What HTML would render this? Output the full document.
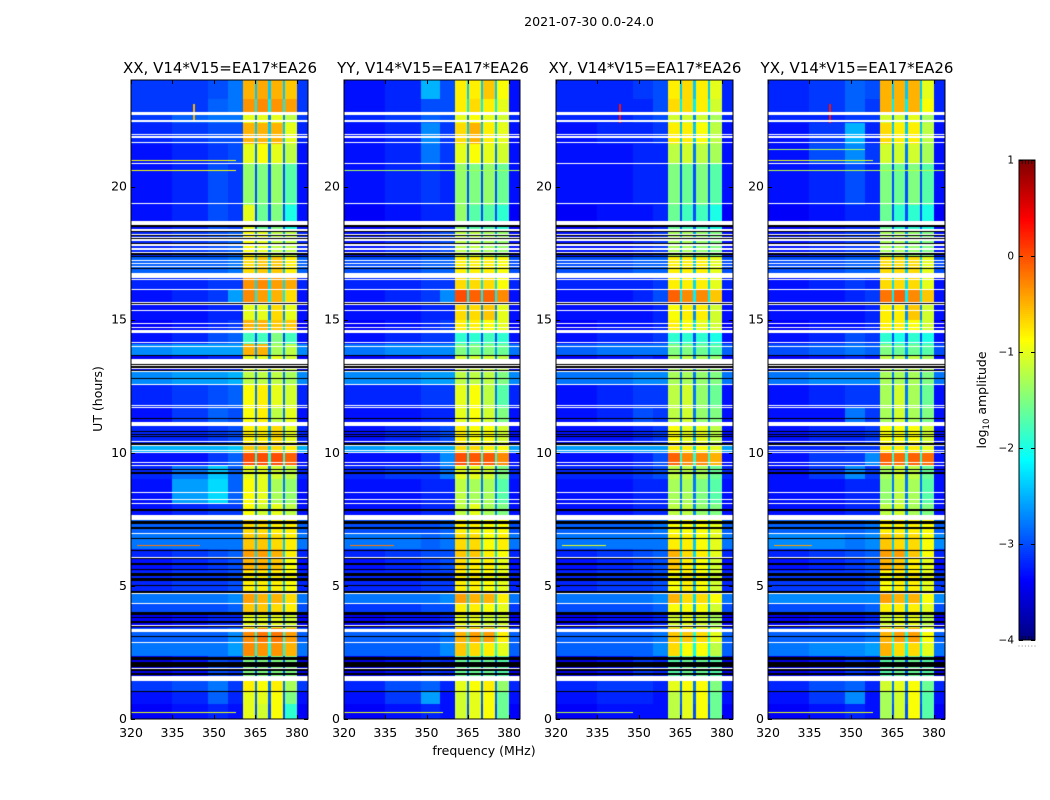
<!DOCTYPE html>
<html lang="en">
<head>
<meta charset="utf-8">
<title>2021-07-30 0.0-24.0</title>
<style>
  html, body { margin: 0; padding: 0; background: #fff; }
  #figure { position: relative; width: 1050px; height: 800px; overflow: hidden; background: #fff; font-family: "DejaVu Sans", "Liberation Sans", sans-serif; }
  canvas { position: absolute; display: block; }
  #overlay { position: absolute; left: 0; top: 0; }
  text { fill: #000; font-family: "DejaVu Sans", "Liberation Sans", sans-serif; }
</style>
</head>
<body>
<div id="figure">
  <canvas id="heat0" width="177" height="639" style="left:131px;top:80px"></canvas>
  <canvas id="heat1" width="176" height="639" style="left:344px;top:80px"></canvas>
  <canvas id="heat2" width="177" height="639" style="left:556px;top:80px"></canvas>
  <canvas id="heat3" width="177" height="639" style="left:768px;top:80px"></canvas>
  <svg id="overlay" width="1050" height="800" viewBox="0 0 1050 800" xmlns="http://www.w3.org/2000/svg">
    <text x="589" y="26" text-anchor="middle" font-size="12.6">2021-07-30 0.0-24.0</text>
    <text x="220" y="73" text-anchor="middle" font-size="15">XX, V14*V15=EA17*EA26</text>
    <text x="433" y="73" text-anchor="middle" font-size="15">YY, V14*V15=EA17*EA26</text>
    <text x="645" y="73" text-anchor="middle" font-size="15">XY, V14*V15=EA17*EA26</text>
    <text x="857" y="73" text-anchor="middle" font-size="15">YX, V14*V15=EA17*EA26</text>
    <text x="484" y="755" text-anchor="middle" font-size="12.5">frequency (MHz)</text>
    <text transform="translate(102 399) rotate(-90)" text-anchor="middle" font-size="12.5">UT (hours)</text>
    <text transform="translate(986 400) rotate(-90)" text-anchor="middle" font-size="12.5">log<tspan font-size="8.5" dy="3">10</tspan><tspan dy="-3"> amplitude</tspan></text>
    <g id="axes"></g>
    <g id="colorbar"></g>
  </svg>
</div>
<script>
// ---- axis tick labels ----
const freqTicks = [320, 335, 350, 365, 380];
const hourTicks = [0, 5, 10, 15, 20];
const colorbarTicks = [1, 0, -1, -2, -3, -4];
const colorbarMinorTicks = [0, 1, 2, 3, 4, 5];
const panelNames = ['xx', 'yy', 'xy', 'yx'];

// ---- frequency columns (MHz) and which level each column reads: 0-3 background, 4-7 bands, 8 gap ----
const freqEdges = [320, 335, 348, 355, 360.4, 364.7, 365.6, 369.7, 370.6, 374.8, 375.7, 379.9, 384];
const columnLevel = [0, 1, 2, 3, 4, 8, 5, 8, 6, 8, 7, 0];

// ---- time rows (hours UT) ----
const hourEdges = [0,0.55,1.05,1.41,2.35,2.9,3.4,3.95,4.35,4.75,5.55,6.05,6.4,7.0,7.5,8.1,9.0,9.5,10.0,10.3,11.0,11.7,12.6,13.1,13.65,14.1,14.6,15.0,15.6,16.1,16.75,17.4,18.3,19.3,20.9,21.6,22.4,22.8,23.3,24];

// ---- log10 amplitude in the narrow gaps between the bands, per time row ----
const gapLevels = [-3.0,-2.9,-2.8,-3.0,-2.1,-2.0,-2.8,-2.5,-2.3,-2.5,-2.5,-2.3,-2.4,-2.5,-2.7,-2.8,-2.8,-1.9,-2.3,-2.6,-2.8,-2.8,-2.8,-2.7,-2.6,-3.0,-2.3,-2.7,-2.2,-2.3,-2.4,-2.6,-3.0,-3.0,-2.8,-2.4,-2.7,-2.2,-2.4];

// ---- log10 amplitude, background columns, one row per time row ----
const backgroundXX = [
[-3.4,-3.3,-3.2,-3.3],[-3.3,-3.2,-2.9,-3.2],[-3.1,-3.0,-2.8,-3.1],[-3.5,-3.3,-3.0,-3.1],[-2.8,-2.8,-2.8,-2.6],[-2.9,-2.9,-2.9,-2.7],
[-3.4,-3.3,-3.2,-3.2],[-3.0,-3.0,-3.0,-2.9],[-2.8,-2.8,-2.8,-2.7],[-3.2,-3.1,-3.1,-3.0],[-3.3,-3.2,-3.1,-3.0],[-3.2,-3.1,-3.0,-2.9],
[-2.8,-2.8,-2.8,-2.8],[-2.9,-2.9,-2.9,-2.9],[-3.3,-3.2,-3.1,-3.1],[-3.3,-2.6,-2.3,-2.9],[-3.2,-2.8,-2.4,-2.9],[-3.3,-3.3,-3.1,-2.9],
[-2.5,-2.5,-2.5,-2.4],[-3.2,-3.2,-3.1,-3.0],[-3.3,-3.1,-2.9,-3.0],[-3.2,-3.1,-3.0,-2.9],[-2.7,-2.6,-2.6,-2.5],[-3.4,-3.3,-3.2,-3.2],
[-2.7,-2.6,-2.6,-2.6],[-3.3,-3.2,-3.0,-2.9],[-3.4,-3.3,-3.2,-3.1],[-3.3,-3.3,-3.2,-3.2],[-3.3,-3.2,-3.1,-2.6],[-3.2,-3.2,-3.1,-3.1],
[-2.9,-2.9,-2.9,-2.8],[-3.2,-3.1,-3.0,-2.9],[-3.3,-3.2,-3.0,-3.1],[-3.3,-3.2,-3.0,-3.1],[-3.3,-3.2,-3.1,-3.0],[-3.2,-3.1,-3.0,-3.0],
[-3.1,-2.9,-2.8,-2.8],[-3.1,-3.1,-2.9,-2.8],[-3.1,-3.1,-3.0,-2.8]];
const backgroundYY = [
[-3.4,-3.3,-3.2,-3.3],[-3.3,-3.1,-2.6,-3.3],[-3.2,-3.0,-2.9,-3.2],[-3.5,-3.3,-3.1,-3.2],[-2.9,-2.9,-2.9,-2.7],[-2.9,-2.9,-2.9,-2.8],
[-3.4,-3.3,-3.3,-3.2],[-3.1,-3.1,-3.0,-3.0],[-2.8,-2.8,-2.8,-2.7],[-3.2,-3.2,-3.1,-3.1],[-3.3,-3.2,-3.1,-3.0],[-3.2,-3.1,-3.0,-3.0],
[-2.8,-2.8,-2.9,-2.8],[-3.0,-3.0,-3.0,-2.9],[-3.3,-3.3,-3.2,-3.2],[-3.3,-3.3,-3.2,-3.2],[-3.2,-3.1,-3.1,-2.8],[-3.3,-3.3,-3.1,-2.7],
[-2.6,-2.5,-2.5,-2.5],[-3.3,-3.2,-3.1,-3.0],[-3.3,-3.3,-3.2,-3.2],[-3.2,-3.2,-3.1,-3.1],[-2.7,-2.7,-2.6,-2.6],[-3.4,-3.3,-3.2,-3.2],
[-2.8,-2.7,-2.7,-2.7],[-3.3,-3.2,-3.1,-3.1],[-3.4,-3.3,-3.2,-3.1],[-3.3,-3.3,-3.2,-3.2],[-3.3,-3.2,-3.1,-2.7],[-3.2,-3.2,-3.1,-3.1],
[-3.0,-3.0,-2.9,-2.9],[-3.3,-3.2,-3.1,-3.0],[-3.4,-3.3,-3.2,-3.2],[-3.3,-3.2,-3.1,-3.2],[-3.3,-3.2,-2.8,-3.1],[-3.3,-3.2,-2.7,-3.1],
[-3.2,-3.1,-2.9,-3.0],[-3.3,-3.2,-3.0,-3.0],[-3.3,-3.2,-2.5,-3.0]];
const backgroundXY = [
[-3.4,-3.3,-3.3,-3.3],[-3.3,-3.2,-3.2,-3.3],[-3.2,-3.1,-3.1,-3.2],[-3.5,-3.3,-3.1,-3.2],[-2.9,-2.9,-2.9,-2.7],[-2.9,-2.9,-2.9,-2.8],
[-3.4,-3.3,-3.3,-3.2],[-3.0,-3.0,-3.0,-2.9],[-2.8,-2.8,-2.8,-2.7],[-3.2,-3.1,-3.1,-3.0],[-3.3,-3.2,-3.1,-3.0],[-3.2,-3.1,-3.0,-2.9],
[-2.8,-2.8,-2.8,-2.8],[-2.9,-2.9,-2.9,-2.8],[-3.3,-3.3,-3.2,-3.2],[-3.3,-3.3,-3.2,-3.2],[-3.2,-3.2,-3.1,-3.0],[-3.3,-3.3,-3.2,-3.0],
[-2.6,-2.6,-2.6,-2.6],[-3.3,-3.3,-3.2,-3.1],[-3.3,-3.2,-3.0,-3.1],[-3.3,-3.2,-3.1,-3.1],[-2.8,-2.8,-2.7,-2.7],[-3.4,-3.3,-3.2,-3.3],
[-2.9,-2.8,-2.8,-2.8],[-3.3,-3.2,-3.2,-3.1],[-3.4,-3.3,-3.3,-3.2],[-3.3,-3.3,-3.3,-3.2],[-3.3,-3.3,-3.2,-3.0],[-3.2,-3.2,-3.2,-3.1],
[-3.0,-3.0,-2.9,-2.9],[-3.3,-3.3,-3.2,-3.1],[-3.4,-3.3,-3.3,-3.2],[-3.3,-3.3,-3.2,-3.2],[-3.3,-3.3,-3.2,-3.2],[-3.3,-3.2,-3.2,-3.1],
[-3.2,-3.2,-3.1,-3.0],[-3.2,-3.2,-3.2,-3.0],[-3.2,-3.2,-3.1,-3.0]];
const backgroundYX = [
[-3.4,-3.3,-3.2,-3.3],[-3.3,-3.1,-2.7,-3.3],[-3.2,-3.0,-2.9,-3.2],[-3.5,-3.3,-3.1,-3.2],[-2.8,-2.7,-2.7,-2.6],[-2.9,-2.9,-2.9,-2.8],
[-3.4,-3.3,-3.3,-3.2],[-3.0,-3.0,-3.0,-2.9],[-2.7,-2.7,-2.7,-2.7],[-3.1,-3.1,-3.1,-3.0],[-3.3,-3.2,-3.1,-3.0],[-3.2,-3.1,-3.0,-2.9],
[-2.7,-2.7,-2.8,-2.7],[-2.9,-2.9,-2.9,-2.8],[-3.3,-3.3,-3.2,-3.2],[-3.3,-3.3,-3.2,-3.2],[-3.3,-3.1,-2.7,-3.1],[-3.3,-3.1,-3.1,-2.7],
[-3.2,-3.2,-3.1,-3.1],[-3.3,-3.2,-3.2,-3.1],[-3.3,-3.3,-2.8,-3.1],[-3.3,-3.2,-3.1,-3.1],[-2.8,-2.7,-2.7,-2.7],[-3.4,-3.3,-3.2,-3.3],
[-3.0,-2.9,-2.8,-2.9],[-3.3,-3.2,-3.0,-3.1],[-3.4,-3.3,-3.3,-3.2],[-3.3,-3.3,-3.3,-3.2],[-3.3,-3.3,-3.2,-3.1],[-3.3,-3.2,-3.1,-3.2],
[-3.0,-3.0,-2.9,-2.9],[-3.3,-3.2,-3.1,-3.1],[-3.4,-3.3,-3.2,-3.2],[-3.3,-3.2,-3.0,-3.2],[-3.3,-3.0,-2.7,-3.1],[-3.3,-3.1,-2.5,-3.2],
[-3.2,-3.2,-3.1,-3.1],[-3.2,-3.1,-2.9,-3.1],[-3.2,-3.1,-2.9,-3.0]];

// ---- log10 amplitude, the four bright bands, one row per time row ----
const bandsXX = [
[-1.0,-1.1,-0.9,-1.9],[-1.0,-1.0,-0.9,-1.5],[-0.8,-0.9,-0.8,-1.3],[-1.5,-1.5,-1.5,-1.5],[-0.3,-0.35,-0.35,-0.5],[-0.3,-0.2,-0.2,-0.4],
[-1.0,-1.0,-1.0,-1.1],[-0.6,-0.6,-0.7,-0.8],[-0.4,-0.5,-0.5,-0.7],[-0.8,-0.8,-0.8,-0.9],[-0.5,-0.5,-0.6,-0.9],[-0.4,-0.4,-0.5,-0.8],
[-0.6,-0.6,-0.7,-0.8],[-0.7,-0.7,-0.8,-0.8],[-0.9,-1.1,-1.0,-1.2],[-0.9,-1.0,-1.3,-1.4],[-1.0,-1.0,-1.1,-1.2],[0.0,0.0,0.0,-0.1],
[-0.6,-0.6,-0.7,-0.8],[-0.8,-0.8,-0.7,-1.0],[-0.9,-0.8,-1.2,-1.0],[-0.9,-0.8,-1.0,-1.1],[-1.2,-1.2,-1.2,-1.3],[-1.0,-1.0,-1.0,-1.1],
[-0.5,-0.5,-1.3,-1.2],[-1.8,-1.8,-1.5,-1.8],[-0.5,-0.5,-0.6,-0.6],[-1.0,-1.0,-0.7,-1.0],[-0.3,-0.4,-0.5,-0.7],[-0.35,-0.3,-0.4,-0.45],
[-0.7,-0.6,-0.6,-0.8],[-0.9,-1.0,-1.2,-1.2],[-1.0,-1.6,-1.5,-2.0],[-1.4,-1.5,-1.4,-1.7],[-1.0,-0.9,-1.0,-1.2],[-0.5,-0.5,-0.5,-1.0],
[-1.0,-1.0,-1.0,-1.2],[-0.35,-0.3,-0.35,-0.4],[-0.5,-0.45,-0.5,-0.6]];
const bandsYY = [
[-1.1,-1.0,-0.9,-1.6],[-1.1,-1.0,-0.9,-1.6],[-1.0,-0.9,-0.8,-1.4],[-1.6,-1.6,-1.6,-1.7],[-0.6,-0.7,-0.8,-1.0],[-0.5,-0.4,-0.4,-0.8],
[-1.0,-1.0,-1.1,-1.1],[-0.8,-0.8,-0.9,-1.0],[-0.4,-0.5,-0.5,-0.8],[-0.8,-0.8,-0.9,-1.0],[-0.7,-0.8,-0.8,-1.0],[-0.6,-0.6,-0.8,-0.9],
[-0.7,-0.7,-0.9,-0.8],[-0.8,-0.8,-0.9,-0.9],[-1.2,-1.0,-1.3,-1.5],[-1.2,-1.3,-1.3,-1.7],[-1.0,-1.0,-1.1,-1.5],[0.0,-0.05,-0.05,-0.3],
[-0.7,-0.7,-0.8,-0.9],[-0.8,-0.9,-0.9,-1.1],[-1.0,-0.9,-1.1,-1.5],[-1.0,-0.9,-1.2,-1.7],[-1.2,-1.2,-1.2,-1.5],[-1.1,-1.1,-1.1,-1.2],
[-1.5,-1.5,-1.5,-1.6],[-1.9,-1.9,-1.8,-1.9],[-0.8,-0.8,-0.9,-1.0],[-0.7,-0.7,-0.6,-1.0],[0.0,-0.1,-0.1,-0.3],[-0.7,-0.7,-0.7,-0.9],
[-0.8,-0.8,-0.8,-0.9],[-1.2,-1.2,-1.3,-1.4],[-1.4,-1.7,-1.7,-1.9],[-1.4,-1.5,-1.4,-1.6],[-1.0,-0.9,-1.0,-1.1],[-0.7,-0.5,-0.8,-1.0],
[-1.0,-0.9,-1.0,-1.1],[-0.8,-0.7,-0.8,-1.0],[-0.8,-0.8,-0.6,-0.9]];
const bandsXY = [
[-1.2,-1.0,-0.9,-1.6],[-1.2,-1.0,-0.9,-1.6],[-1.0,-0.9,-0.9,-1.5],[-1.7,-1.6,-1.6,-1.7],[-0.7,-0.9,-0.9,-1.2],[-0.6,-0.6,-0.7,-1.0],
[-1.1,-1.0,-1.1,-1.3],[-0.9,-0.9,-0.9,-1.1],[-0.5,-0.7,-0.7,-0.9],[-0.9,-0.8,-0.9,-1.1],[-0.6,-0.8,-0.9,-1.1],[-0.5,-0.7,-0.8,-1.0],
[-0.8,-0.8,-0.9,-1.0],[-0.9,-0.9,-0.9,-1.0],[-1.2,-1.2,-1.4,-1.5],[-1.3,-1.3,-1.5,-1.7],[-1.2,-1.2,-1.3,-1.6],[-0.1,-0.3,-0.3,-0.5],
[-0.8,-0.8,-0.9,-1.0],[-0.9,-1.0,-1.0,-1.2],[-1.2,-1.1,-1.4,-1.5],[-1.2,-1.1,-1.4,-1.6],[-1.3,-1.3,-1.4,-1.5],[-1.3,-1.2,-1.3,-1.4],
[-1.5,-1.5,-1.6,-1.7],[-1.9,-1.9,-1.9,-2.0],[-0.8,-0.9,-1.0,-1.1],[-0.9,-0.8,-0.8,-1.1],[-0.1,-0.3,-0.3,-0.6],[-0.8,-0.8,-0.8,-1.0],
[-0.8,-0.8,-0.8,-1.0],[-1.3,-1.3,-1.4,-1.5],[-1.6,-1.8,-1.8,-2.0],[-1.5,-1.6,-1.5,-1.7],[-1.2,-1.1,-1.2,-1.3],[-0.8,-0.8,-0.9,-1.2],
[-1.1,-1.1,-1.1,-1.3],[-0.7,-0.7,-0.8,-1.1],[-0.8,-0.7,-0.8,-1.0]];
const bandsYX = [
[-1.3,-1.1,-0.9,-1.7],[-1.3,-1.1,-0.9,-1.7],[-1.1,-1.0,-0.9,-1.6],[-1.7,-1.6,-1.6,-1.7],[-0.5,-0.7,-0.7,-1.0],[-0.5,-0.4,-0.4,-0.9],
[-1.1,-1.0,-1.0,-1.2],[-0.8,-0.8,-0.8,-1.0],[-0.4,-0.5,-0.5,-0.9],[-0.9,-0.8,-0.8,-1.0],[-0.5,-0.6,-0.8,-1.0],[-0.4,-0.4,-0.6,-0.9],
[-0.6,-0.7,-0.7,-0.9],[-0.8,-0.8,-0.8,-0.9],[-1.2,-1.1,-1.3,-1.5],[-1.4,-1.2,-1.3,-1.7],[-1.3,-1.1,-1.2,-1.6],[-0.1,-0.15,-0.1,-0.15],
[-0.8,-0.8,-0.8,-1.0],[-0.9,-0.9,-0.9,-1.1],[-1.3,-1.1,-1.3,-1.5],[-1.3,-1.1,-1.3,-1.6],[-1.3,-1.3,-1.3,-1.5],[-1.2,-1.2,-1.2,-1.3],
[-1.5,-1.6,-1.6,-1.7],[-1.9,-2.0,-1.9,-2.0],[-0.8,-0.8,-0.9,-1.1],[-0.8,-0.8,-0.6,-1.1],[-0.2,-0.1,-0.3,-0.6],[-0.7,-0.7,-0.7,-1.0],
[-0.7,-0.7,-0.7,-1.0],[-1.3,-1.3,-1.4,-1.5],[-1.6,-1.9,-1.9,-2.0],[-1.5,-1.6,-1.5,-1.7],[-1.1,-1.1,-1.1,-1.3],[-0.7,-0.8,-0.8,-1.2],
[-1.1,-1.1,-1.0,-1.3],[-0.5,-0.5,-0.5,-0.9],[-0.5,-0.5,-0.5,-1.0]];

const panelBackground = [backgroundXX, backgroundYY, backgroundXY, backgroundYX];
const panelBands = [bandsXX, bandsYY, bandsXY, bandsYX];

// ---- narrow interference: [hour, start MHz, end MHz, log10 amplitude] ----
const interferenceXX = [[0.27,320,358,-1.0],[1.07,320,384,-0.6],[6.54,322,345,-0.2],[20.63,320,358,-0.9],[21.0,320,358,-0.9]];
const interferenceYY = [[0.27,320,356,-1.0],[1.07,320,384,-1.1],[6.54,322,338,-0.2],[20.63,320,384,-1.3]];
const interferenceXY = [[0.27,320,348,-1.2],[1.07,320,384,-1.1],[6.54,322,338,-1.0]];
const interferenceYX = [[0.27,320,358,-1.0],[1.07,320,384,-0.9],[6.54,322,336,-0.4],[20.63,320,384,-1.2],[21.0,320,358,-1.0],[21.4,320,355,-1.3]];
const panelInterference = [interferenceXX, interferenceYY, interferenceXY, interferenceYX];

// ---- brief broadband spikes: [MHz, start hour, end hour, log10 amplitude] ----
const spikesXX = [[342.4,22.45,23.1,-0.5]];
const spikesYY = [];
const spikesXY = [[342.6,22.4,23.1,0.3]];
const spikesYX = [[342.2,22.4,23.1,0.3]];
const panelSpikes = [spikesXX, spikesYY, spikesXY, spikesYX];

// ---- flagged integrations [start hour, end hour] ----
const flaggedWhite = [[1.41,1.60],[1.89,1.93],[2.86,2.89],[3.28,3.37],[3.49,3.53],[4.33,4.37],[4.69,4.73],[6.04,6.09],[6.96,6.99],[7.48,7.67],[8.08,8.12],[8.22,8.26],[8.49,8.53],[9.51,9.54],[9.61,9.64],[9.98,10.03],[10.08,10.12],[10.25,10.29],[10.42,10.46],[11.00,11.17],[11.67,11.71],[11.75,11.79],[12.54,12.59],[13.02,13.06],[13.15,13.19],[13.25,13.30],[13.34,13.52],[13.97,14.02],[14.12,14.16],[14.49,14.62],[14.69,14.74],[14.82,14.87],[15.33,15.37],[15.54,15.58],[15.64,15.68],[16.10,16.14],[16.48,16.52],[16.55,16.74],[16.98,17.02],[17.08,17.12],[17.19,17.24],[17.49,17.54],[17.63,17.68],[17.78,17.83],[17.95,18.01],[18.05,18.10],[18.17,18.22],[18.33,18.40],[18.54,18.72],[19.33,19.37],[20.87,20.90],[21.63,21.66],[21.84,21.89],[21.95,21.99],[22.44,22.48],[22.67,22.80]];
const flaggedBlack = [[1.03,1.07],[1.66,1.73],[1.82,1.86],[1.94,2.14],[2.23,2.32],[3.09,3.13],[3.45,3.49],[3.62,3.67],[3.81,3.84],[3.92,4.02],[4.75,4.79],[5.01,5.04],[5.17,5.31],[5.36,5.49],[5.59,5.64],[5.80,5.86],[6.01,6.04],[6.32,6.36],[6.76,6.79],[7.14,7.22],[7.33,7.45],[7.82,7.87],[9.22,9.26],[9.37,9.40],[10.30,10.35],[10.59,10.63],[10.69,10.72],[10.78,10.82],[11.29,11.32],[12.77,12.80],[13.06,13.09],[13.19,13.24],[13.30,13.34],[13.63,13.68],[15.58,15.62],[16.89,16.93],[17.35,17.39],[17.43,17.49],[17.83,17.89],[18.02,18.05],[18.13,18.17],[18.28,18.33],[18.49,18.54]];

// ---- axis functions ----
const panelLeft = [131, 344, 556, 768];
const panelWidth = [177, 176, 177, 177];
const plotTop = 80, plotHeight = 639;
const freqMin = 320, freqMax = 384, hourMin = 0, hourMax = 24;
const colorMin = -4, colorMax = 1;
const barLeft = 1019, barWidth = 16, barTop = 160, barHeight = 480;
const xScale = (f, p) => (f - freqMin) / (freqMax - freqMin) * panelWidth[p];
const yScale = h => (hourMax - h) / (hourMax - hourMin) * plotHeight;
const colorY = v => barTop + (colorMax - v) / (colorMax - colorMin) * barHeight;

// jet colormap
function jet(v) {
  const t = Math.max(0, Math.min(1, (v - colorMin) / (colorMax - colorMin)));
  const r = Math.min(1, Math.max(0, Math.min(4 * t - 1.5, -4 * t + 4.5)));
  const g = Math.min(1, Math.max(0, Math.min(4 * t - 0.5, -4 * t + 3.5)));
  const b = Math.min(1, Math.max(0, Math.min(4 * t + 0.5, -4 * t + 2.5)));
  return 'rgb(' + Math.round(r * 255) + ',' + Math.round(g * 255) + ',' + Math.round(b * 255) + ')';
}

// ---- heatmaps ----
function drawBand(ctx, p, h0, h1, color) {
  const y0 = Math.round(yScale(h1));
  const y1 = Math.max(y0 + 1, Math.round(yScale(h0)));
  ctx.fillStyle = color;
  ctx.fillRect(0, y0, panelWidth[p], y1 - y0);
}
panelNames.forEach(function (name, p) {
  const ctx = document.getElementById('heat' + p).getContext('2d');
  ctx.fillStyle = '#fff';
  ctx.fillRect(0, 0, panelWidth[p], plotHeight);
  for (let r = 0; r < hourEdges.length - 1; r++) {
    const levels = panelBackground[p][r].concat(panelBands[p][r], [gapLevels[r]]);
    const y0 = Math.round(yScale(hourEdges[r + 1]));
    const y1 = Math.round(yScale(hourEdges[r]));
    for (let c = 0; c < freqEdges.length - 1; c++) {
      const x0 = Math.round(xScale(freqEdges[c], p));
      const x1 = Math.round(xScale(freqEdges[c + 1], p));
      ctx.fillStyle = jet(levels[columnLevel[c]]);
      ctx.fillRect(x0, y0, x1 - x0, y1 - y0);
    }
  }
  panelInterference[p].forEach(function (d) {
    const x0 = Math.round(xScale(d[1], p));
    const x1 = Math.round(xScale(d[2], p));
    ctx.fillStyle = jet(d[3]);
    ctx.fillRect(x0, Math.round(yScale(d[0])), x1 - x0, 1);
  });
  panelSpikes[p].forEach(function (d) {
    const y0 = Math.round(yScale(d[2]));
    const y1 = Math.round(yScale(d[1]));
    ctx.fillStyle = jet(d[3]);
    ctx.fillRect(Math.round(xScale(d[0], p)), y0, 2, y1 - y0);
  });
  flaggedBlack.forEach(function (d) { drawBand(ctx, p, d[0], d[1], '#000'); });
  flaggedWhite.forEach(function (d) { drawBand(ctx, p, d[0], d[1], '#fff'); });
});

// ---- axes ----
const NS = 'http://www.w3.org/2000/svg';
const axesGroup = document.getElementById('axes');
const barGroup = document.getElementById('colorbar');
function line(parent, x1, y1, x2, y2, width) {
  const el = document.createElementNS(NS, 'line');
  el.setAttribute('x1', x1);
  el.setAttribute('y1', y1);
  el.setAttribute('x2', x2);
  el.setAttribute('y2', y2);
  el.setAttribute('stroke', '#000');
  el.setAttribute('stroke-width', width);
  parent.appendChild(el);
  return el;
}
function label(parent, x, y, anchor, size, content) {
  const el = document.createElementNS(NS, 'text');
  el.setAttribute('x', x);
  el.setAttribute('y', y);
  el.setAttribute('text-anchor', anchor);
  el.setAttribute('font-size', size);
  el.textContent = content;
  parent.appendChild(el);
  return el;
}
panelNames.forEach(function (name, p) {
  const left = panelLeft[p], w = panelWidth[p];
  const frame = document.createElementNS(NS, 'rect');
  frame.setAttribute('x', left);
  frame.setAttribute('y', plotTop);
  frame.setAttribute('width', w);
  frame.setAttribute('height', plotHeight);
  frame.setAttribute('fill', 'none');
  frame.setAttribute('stroke', '#000');
  frame.setAttribute('stroke-width', 1);
  
  
  axesGroup.appendChild(frame);
  freqTicks.forEach(function (f) {
    const x = Math.round(left + xScale(f, p)) + 0.5;
    const bottomTick = line(axesGroup, x, plotTop + plotHeight, x, plotTop + plotHeight - 4, 1);
    
    
    const topTick = line(axesGroup, x, plotTop, x, plotTop + 4, 1);
    
    
    const text = label(axesGroup, left + xScale(f, p), plotTop + plotHeight + 18, 'middle', 12.5, String(f));
    
    
  });
  hourTicks.forEach(function (h) {
    const y = Math.round(plotTop + yScale(h)) + 0.5;
    const leftTick = line(axesGroup, left, y, left + 4, y, 1);
    
    
    const rightTick = line(axesGroup, left + w, y, left + w - 4, y, 1);
    
    
    const text = label(axesGroup, left - 4, plotTop + yScale(h) + 4, 'end', 12.5, String(h));
    
    
  });
});

// ---- colorbar ----
for (let i = 0; i < 240; i++) {
  const v = colorMax - (i + 0.5) / 240 * (colorMax - colorMin);
  const swatch = document.createElementNS(NS, 'rect');
  swatch.setAttribute('x', barLeft);
  swatch.setAttribute('y', colorY(v) - barHeight / 480);
  swatch.setAttribute('width', barWidth);
  swatch.setAttribute('height', barHeight / 240 + 0.5);
  swatch.setAttribute('fill', jet(v));
  
  
  barGroup.appendChild(swatch);
}
const barFrame = document.createElementNS(NS, 'rect');
barFrame.setAttribute('x', barLeft);
barFrame.setAttribute('y', barTop);
barFrame.setAttribute('width', barWidth);
barFrame.setAttribute('height', barHeight);
barFrame.setAttribute('fill', 'none');
barFrame.setAttribute('stroke', '#000');
barFrame.setAttribute('stroke-width', 1);


barGroup.appendChild(barFrame);
colorbarTicks.forEach(function (v) {
  const y = Math.round(colorY(v)) + 0.5;
  const leftTick = line(barGroup, barLeft, y, barLeft + 4, y, 1);
  
  
  const rightTick = line(barGroup, barLeft + barWidth, y, barLeft + barWidth - 4, y, 1);
  
  
  const text = label(barGroup, barLeft - 5, colorY(v) + 3.5, 'end', 10.5, String(v).replace('-', '\u2212'));
  
  
});
colorbarMinorTicks.forEach(function (i) {
  const x = barLeft + i / 5 * barWidth;
  const topTick = line(barGroup, x, barTop, x, barTop + 4, 0.7);
  
  
  const bottomTick = line(barGroup, x, barTop + barHeight, x, barTop + barHeight - 4, 0.7);
  
  
  const dot = document.createElementNS(NS, 'rect');
  dot.setAttribute('x', x - 0.5);
  dot.setAttribute('y', barTop + barHeight + 5.5);
  dot.setAttribute('width', 1);
  dot.setAttribute('height', 1);
  dot.setAttribute('fill', '#888');
  
  
  barGroup.appendChild(dot);
});
</script>
</body>
</html>
